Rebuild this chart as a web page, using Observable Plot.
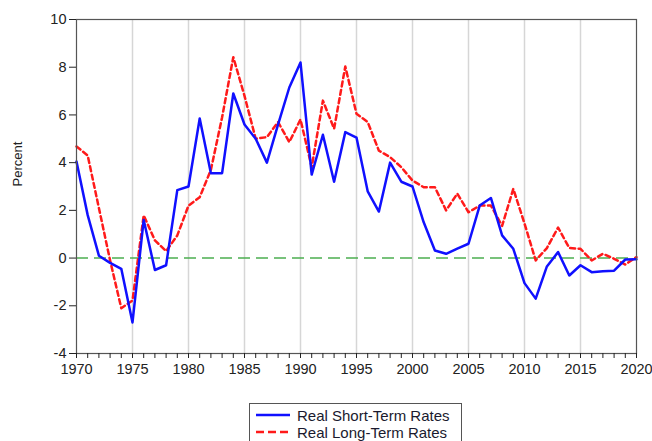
<!DOCTYPE html>
<html>
<head>
<meta charset="utf-8">
<script src="https://cdn.jsdelivr.net/npm/d3@7"></script>
<script src="https://cdn.jsdelivr.net/npm/@observablehq/plot@0.6"></script>
<style>
  html, body { margin: 0; padding: 0; background: #fff; }
  body { width: 652px; height: 441px; overflow: hidden; position: relative; font-family: "Liberation Sans", Arial, sans-serif; }
  #legend { position: absolute; left: 249px; top: 403px; width: 213px; height: 44px; border: 1px solid #555; box-sizing: border-box; background: #fff; }
  .row { position: absolute; left: 5px; height: 18px; display: flex; align-items: center; font-size: 15px; color: #1a1a2e; }
  .row svg { margin-right: 6px; }
</style>
</head>
<body>
<div id="chart"></div>
<div id="legend"></div>
<script>
const years = d3.range(1970, 2021);
const shortRates = [4.05, 1.8, 0.1, -0.2, -0.45, -2.7, 1.6, -0.5, -0.3, 2.85,
  3.0, 5.85, 3.56, 3.56, 6.9, 5.6, 5.0, 4.0, 5.6, 7.15,
  8.2, 3.5, 5.17, 3.2, 5.28, 5.05, 2.8, 1.95, 4.0, 3.2,
  3.0, 1.5, 0.32, 0.18, 0.4, 0.6, 2.2, 2.52, 0.95, 0.39,
  -1.05, -1.7, -0.35, 0.25, -0.73, -0.3, -0.59, -0.55, -0.53, -0.06,
  -0.05];
const longRates = [4.68, 4.3, 2.1, -0.1, -2.1, -1.78, 1.79, 0.74, 0.29, 0.95,
  2.2, 2.55, 3.7, 5.9, 8.42, 6.8, 5.0, 5.07, 5.7, 4.86,
  5.81, 3.81, 6.6, 5.42, 8.03, 6.05, 5.7, 4.5, 4.23, 3.81,
  3.25, 2.97, 2.97, 2.0, 2.7, 1.92, 2.2, 2.2, 1.35, 2.9,
  1.45, -0.1, 0.42, 1.28, 0.42, 0.39, -0.1, 0.18, -0.03, -0.27,
  0.04];
const yTicks = [-4, -2, 0, 2, 4, 6, 8, 10];
const xLabelYears = [1970, 1975, 1980, 1985, 1990, 1995, 2000, 2005, 2010, 2015, 2020];
const gridYears = [1975, 1980, 1985, 1990, 1995, 2000, 2005, 2010, 2015];
const seriesNames = ["Real Short-Term Rates", "Real Long-Term Rates"];

const shortData = years.map((y, i) => ({year: y, value: shortRates[i]}));
const longData = years.map((y, i) => ({year: y, value: longRates[i]}));

const plot = Plot.plot({
  width: 652,
  height: 398,
  marginTop: 19,
  marginBottom: 45,
  marginLeft: 76,
  marginRight: 16,
  style: {fontFamily: "'Liberation Sans', Arial, sans-serif", fontSize: "14.5px", color: "#222", background: "#fff"},
  x: {domain: [1970, 2020]},
  y: {domain: [-4, 10]},
  marks: [
    Plot.ruleX(gridYears, {stroke: "#d6d6d6", strokeWidth: 1.5}),
    Plot.ruleY([0], {stroke: "#4caf50", strokeWidth: 1.5, strokeDasharray: "12,6"}),
    Plot.line(longData, {x: "year", y: "value", stroke: "#ff1a1a", strokeWidth: 2.5, strokeDasharray: "5,3.5"}),
    Plot.line(shortData, {x: "year", y: "value", stroke: "#1010ff", strokeWidth: 2.5}),
    Plot.frame({stroke: "#555", strokeWidth: 1.2}),
    Plot.axisY({ticks: yTicks, tickSize: 7, tickPadding: 3, tickFormat: d => d < 0 ? "-" + Math.abs(d) : String(d), label: null, fontSize: 14.5}),
    Plot.text(["Percent"], {frameAnchor: "left", dx: -59, rotate: -90, fontSize: 13, fill: "#222"}),
    Plot.axisX({ticks: years, tickSize: 5, tickFormat: d => xLabelYears.includes(d) ? String(d) : "", label: null, fontSize: 14.5, tickPadding: 5})
  ]
});
document.getElementById("chart").appendChild(plot);

const legend = document.getElementById("legend");
const styles = [
  {color: "#1010ff", dash: null},
  {color: "#ff1a1a", dash: "8,4"}
];
seriesNames.forEach((name, i) => {
  const row = document.createElement("div");
  row.className = "row";
  row.style.top = (i === 0 ? 2 : 19) + "px";
  row.innerHTML = `<svg width="36" height="14"><line x1="1" y1="7" x2="35" y2="7" stroke="${styles[i].color}" stroke-width="2.5" ${styles[i].dash ? `stroke-dasharray="${styles[i].dash}"` : ""}/></svg><span>${name}</span>`;
  legend.appendChild(row);
});
</script>
</body>
</html>
